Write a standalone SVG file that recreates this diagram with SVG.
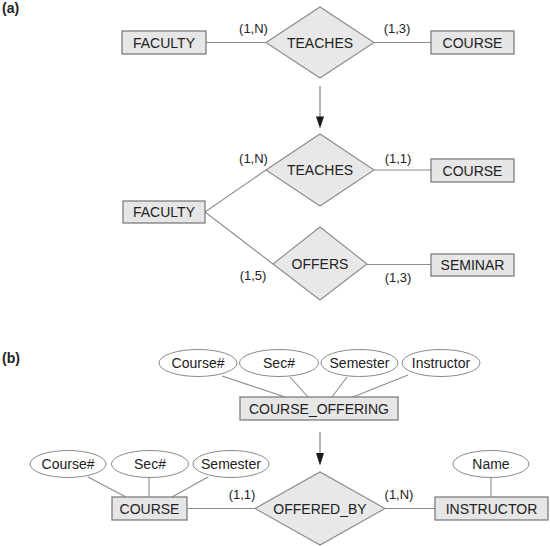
<svg xmlns="http://www.w3.org/2000/svg" width="550" height="546" viewBox="0 0 550 546">
<style>
.ent{fill:#e6e6e6;stroke:#7d7d7d;stroke-width:1.3}
.rel{fill:#e8e8e8;stroke:#8a8a8a;stroke-width:1.1}
.att{fill:#ffffff;stroke:#8a8a8a;stroke-width:1}
.ln{stroke:#8c8c8c;stroke-width:1.1;fill:none}
.arr{stroke:#8c8c8c;stroke-width:1.3;fill:none}
text{font-family:"Liberation Sans",Arial,sans-serif;fill:#222}
.t{font-size:14px;text-anchor:middle}
.c{font-size:13px;text-anchor:middle}
.p{font-size:14px;font-weight:bold}
</style>
<defs>
<marker id="ah" markerWidth="8" markerHeight="12" refX="4" refY="12" orient="auto" markerUnits="userSpaceOnUse" viewBox="0 0 8 12">
<path d="M0,0 L8,0 L4,12 Z" fill="#1a1a1a" transform="rotate(0)"/>
</marker>
</defs>
<rect width="550" height="546" fill="#ffffff"/>
<text class="p" x="2" y="13">(a)</text>
<text class="p" x="2" y="363">(b)</text>

<g id="connectors">
<line class="ln" x1="206" y1="42.5" x2="266" y2="42.5"/>
<line class="ln" x1="374" y1="42.5" x2="431" y2="42.5"/>
<line class="ln" x1="205" y1="212" x2="266" y2="170"/>
<line class="ln" x1="374" y1="170" x2="431" y2="170"/>
<line class="ln" x1="205" y1="212" x2="273" y2="264"/>
<line class="ln" x1="367" y1="264.5" x2="431" y2="264.5"/>
<line class="ln" x1="222" y1="376" x2="285" y2="397"/>
<line class="ln" x1="290" y1="377" x2="308" y2="397"/>
<line class="ln" x1="347" y1="377" x2="332" y2="397"/>
<line class="ln" x1="408" y1="375" x2="353" y2="397"/>
<line class="ln" x1="88" y1="477" x2="126" y2="497"/>
<line class="ln" x1="149" y1="478" x2="149" y2="497"/>
<line class="ln" x1="208" y1="477" x2="172" y2="497"/>
<line class="ln" x1="491" y1="478" x2="491" y2="497"/>
<line class="ln" x1="187" y1="508.5" x2="255" y2="508.5"/>
<line class="ln" x1="385" y1="508.5" x2="435" y2="508.5"/>
<line class="arr" x1="320" y1="86" x2="320" y2="117"/>
<path d="M316,116.5 L324,116.5 L320,128.5 Z" fill="#1a1a1a"/>
<line class="arr" x1="320" y1="432" x2="320" y2="454"/>
<path d="M316,453 L324,453 L320,465.5 Z" fill="#1a1a1a"/>
</g>

<g id="faculty1"><rect class="ent" x="122" y="31" width="84" height="23"/><text class="t" x="164" y="47.5">FACULTY</text></g>
<g id="teaches1"><polygon class="rel" points="266,42.5 320,7 374,42.5 320,78"/><text class="t" x="320" y="47.5">TEACHES</text></g>
<g id="course1"><rect class="ent" x="431" y="31" width="83" height="23"/><text class="t" x="472.5" y="47.5">COURSE</text></g>
<text class="c" x="253.5" y="33">(1,N)</text>
<text class="c" x="397" y="33">(1,3)</text>

<g id="teaches2"><polygon class="rel" points="266,170 320,134 374,170 320,206"/><text class="t" x="320" y="175">TEACHES</text></g>
<g id="course2"><rect class="ent" x="431" y="159" width="83" height="23"/><text class="t" x="472.5" y="175.5">COURSE</text></g>
<g id="faculty2"><rect class="ent" x="123" y="201" width="82" height="22"/><text class="t" x="164" y="217">FACULTY</text></g>
<g id="offers"><polygon class="rel" points="273,264 320,227 367,264 320,300"/><text class="t" x="320" y="269">OFFERS</text></g>
<g id="seminar"><rect class="ent" x="431" y="254" width="83" height="22"/><text class="t" x="472.5" y="270">SEMINAR</text></g>
<text class="c" x="253.5" y="163">(1,N)</text>
<text class="c" x="398" y="163">(1,1)</text>
<text class="c" x="253" y="280">(1,5)</text>
<text class="c" x="398" y="282">(1,3)</text>

<g id="co_course"><ellipse class="att" cx="198" cy="363" rx="39" ry="13.5"/><text class="t" x="198" y="368">Course#</text></g>
<g id="co_sec"><ellipse class="att" cx="279" cy="363" rx="39.5" ry="13.5"/><text class="t" x="279" y="368">Sec#</text></g>
<g id="co_sem"><ellipse class="att" cx="359.5" cy="363" rx="38.5" ry="13.5"/><text class="t" x="359.5" y="368">Semester</text></g>
<g id="co_instr"><ellipse class="att" cx="441" cy="363" rx="39" ry="13.5"/><text class="t" x="441" y="368">Instructor</text></g>
<g id="course_offering"><rect class="ent" x="240" y="397" width="158" height="23"/><text class="t" x="319" y="413.5">COURSE_OFFERING</text></g>

<g id="c_course"><ellipse class="att" cx="68" cy="464" rx="38" ry="13.5"/><text class="t" x="68" y="469">Course#</text></g>
<g id="c_sec"><ellipse class="att" cx="150" cy="464" rx="38.5" ry="13.5"/><text class="t" x="150" y="469">Sec#</text></g>
<g id="c_sem"><ellipse class="att" cx="231" cy="464" rx="38" ry="13.5"/><text class="t" x="231" y="469">Semester</text></g>
<g id="course3"><rect class="ent" x="112" y="497" width="75" height="23"/><text class="t" x="149.5" y="513.5">COURSE</text></g>
<g id="offered_by"><polygon class="rel" points="255,508.5 320,472 385,508.5 320,545"/><text class="t" x="320" y="513.5">OFFERED_BY</text></g>
<g id="name"><ellipse class="att" cx="491" cy="464" rx="38" ry="13.5"/><text class="t" x="491" y="469">Name</text></g>
<g id="instructor"><rect class="ent" x="435" y="497" width="113" height="23"/><text class="t" x="491.5" y="513.5">INSTRUCTOR</text></g>
<text class="c" x="242" y="499">(1,1)</text>
<text class="c" x="399" y="499">(1,N)</text>
</svg>
